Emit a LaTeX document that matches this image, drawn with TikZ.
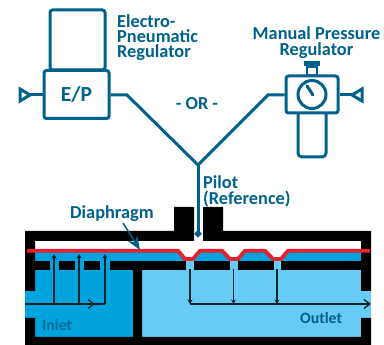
\documentclass[tikz,border=0pt]{standalone}
\usepackage{fontspec}
\setmainfont{Carlito}
\usetikzlibrary{arrows.meta}
\definecolor{teal1}{HTML}{00628C}
\definecolor{inletc}{HTML}{00A3DE}
\definecolor{outletc}{HTML}{66CCF5}
\definecolor{redc}{HTML}{E8202E}
\definecolor{flowc}{HTML}{10222C}
\tikzset{
  lab/.style={font=\fontsize{18.3}{15}\selectfont\bfseries,text=teal1,inner sep=0pt,align=left},
  labb/.style={font=\fontsize{18.3}{16}\selectfont\bfseries,text=teal1,inner sep=0pt},
  labs/.style={font=\fontsize{15.8}{16}\selectfont\bfseries,inner sep=0pt},
  boxp/.style={draw=teal1,line width=3pt,rounded corners=2.5pt,fill=white,inner sep=0pt},
  pipe/.style={draw=teal1,line width=3pt,line join=miter},
  tri/.style={draw=teal1,line width=3pt,fill=white,line join=miter},
  wall/.style={fill=black,draw=none},
  flow/.style={draw=flowc,line width=1.3pt},
  tipsm/.style={-{Stealth[length=4.5pt,width=5pt]}},
  tipop/.style={-{Straight Barb[length=6pt,width=9pt,line width=1.3pt]}}
}
\begin{document}
\begin{tikzpicture}[x=1pt,y=-1pt]
\useasboundingbox (0,0) rectangle (384,345);
% chamber fills
\fill[inletc] (35,250) rectangle (361,262);
\fill[white] (35,241) -- (361,241) -- (361,251) -- (288,251) -- (281,260) -- (273,260) -- (265,251) -- (245,251) -- (238,260) -- (230,260) -- (222,251) -- (200,251) -- (193,260) -- (185,260) -- (178,251) -- (35,251) -- cycle;
\fill[inletc] (25,270) rectangle (134,338);
\fill[outletc] (141,270) rectangle (371,338);
\fill[outletc] (185,259) rectangle (194,271);
\fill[outletc] (230,259) rectangle (238,271);
\fill[outletc] (273,259) rectangle (281,271);
\fill[inletc] (50,261) rectangle (59,271);
\fill[inletc] (75,261) rectangle (84,271);
\fill[inletc] (100,261) rectangle (110,271);
% body
\fill[wall] (25,231) -- (174,231) -- (174,207) -- (194,207) -- (194,241) -- (35,241) -- (35,291) -- (25,291) -- cycle;
\fill[wall] (203,241) -- (203,207) -- (223,207) -- (223,231) -- (371,231) -- (371,291) -- (361,291) -- (361,241) -- cycle;
\fill[wall] (25,318) -- (35,318) -- (35,337) -- (133,337) -- (133,270) -- (142,270) -- (142,337) -- (361,337) -- (361,318) -- (371,318) -- (371,345) -- (25,345) -- cycle;
\fill[wall] (35,261) rectangle (50,270);
\fill[wall] (59,261) rectangle (75,270);
\fill[wall] (84,261) rectangle (100,270);
\fill[wall] (110,261) rectangle (186,270);
\fill[wall] (194,261) rectangle (230,270);
\fill[wall] (238,261) rectangle (274,270);
\fill[wall] (281,261) rectangle (361,270);
% flows
\coordinate (inS) at (25,304);
\coordinate (inA) at (54,304);
\coordinate (inB) at (79,304);
\coordinate (inC) at (105,304);
\coordinate (inAt) at (54,254);
\coordinate (inBt) at (79,254);
\coordinate (inCt) at (105,254);
\coordinate (inM) at (95,304);
\draw[flow] (inS) -- (inC);
\draw[flow,tipop] (inA) -- (inM);
\draw[flow,tipsm] (inA) -- (inAt);
\draw[flow,tipsm] (inB) -- (inBt);
\draw[flow,tipsm] (inC) -- (inCt);
\coordinate (ouA) at (190,304);
\coordinate (ouB) at (233.5,304);
\coordinate (ouC) at (277,304);
\coordinate (ouAt) at (190,269);
\coordinate (ouBt) at (233.5,269);
\coordinate (ouCt) at (277,269);
\coordinate (ouE) at (371,304);
\draw[flow,tipsm] (ouAt) -- (ouA);
\draw[flow,tipsm] (ouBt) -- (ouB);
\draw[flow,tipsm] (ouCt) -- (ouC);
\draw[flow,tipop] (ouA) -- (ouE);
% diaphragm
\draw[redc,line width=3.8pt,line join=round] (27,250.7) -- (178,250.7) -- (185,259) -- (193,259) -- (200,250.7) -- (222,250.7) -- (230,259) -- (238,259) -- (245,250.7) -- (265,250.7) -- (273,259) -- (281,259) -- (288,250.7) -- (370,250.7);
% E/P regulator
\node[boxp,minimum width=55pt,minimum height=60pt] (head) at (77.5,40) {};
\node[boxp,minimum width=65pt,minimum height=48pt,font=\fontsize{21.5}{21.5}\selectfont\bfseries,text=teal1] (ep) at (76.5,94.5) {E/P};
% manual regulator
\node[boxp,minimum width=28pt,minimum height=52pt,rounded corners=4pt] (bowl) at (312,131) {};
\node[boxp,minimum width=52pt,minimum height=37pt] (man) at (312,94.5) {};
\node[circle,draw=teal1,line width=3pt,minimum size=28pt,inner sep=0pt] (gauge) at (312,94.5) {};
\coordinate (needleA) at (307,86);
\coordinate (needleB) at (313,95);
\draw[pipe,line cap=round] (needleA) -- (needleB);
\node[draw=teal1,line width=2.4pt,fill=white,minimum width=10pt,minimum height=9pt,inner sep=0pt] (stem) at (312,71) {};
\node[fill=teal1,minimum width=16pt,minimum height=5pt,inner sep=0pt] (knob) at (312,64) {};
% triangles
\coordinate (tl) at (30,95);
\coordinate (tr) at (352,95);
\draw[tri] (tl) -- (20,89) -- (20,101) -- cycle;
\draw[tri] (tr) -- (362,89) -- (362,101) -- cycle;
\draw[pipe] (tl) -- (ep.west |- tl);
\draw[pipe] (tr) -- (man.east |- tr);
% pilot lines
\coordinate (jn) at (198,165);
\coordinate (kl) at (127,95);
\coordinate (kr) at (268,95);
\coordinate (pe) at (198,237);
\draw[pipe] (ep.east |- kl) -- (kl) -- (jn) -- (kr) -- (man.west |- kr);
\draw[pipe,-{Circle[length=6.5pt,width=6.5pt]}] (jn) -- (pe);
% diaphragm pointer
\coordinate (dpA) at (123,223);
\coordinate (dpB) at (140,250);
\draw[draw=teal1,line width=1.5pt,-{Stealth[length=14pt,width=11pt]}] (dpA) -- (dpB);
% labels
\node[lab,anchor=north west] (l1) at (117,14) {Electro-\\Pneumatic\\Regulator};
\node[labb,align=center,anchor=north] (l4) at (316.5,26) {Manual Pressure\\Regulator};
\node[lab,anchor=base] (l6) at (197,110) {- OR -};
\node[labb,align=left,anchor=north west] (l7) at (203,175) {Pilot\\(Reference)};
\node[lab,anchor=base west] (l9) at (70,219) {Diaphragm};
\node[labs,anchor=base west,text=teal1!85!inletc] (l10) at (42,331) {Inlet};
\node[labs,anchor=base west,text=teal1] (l11) at (300,324) {Outlet};
\end{tikzpicture}
\end{document}
